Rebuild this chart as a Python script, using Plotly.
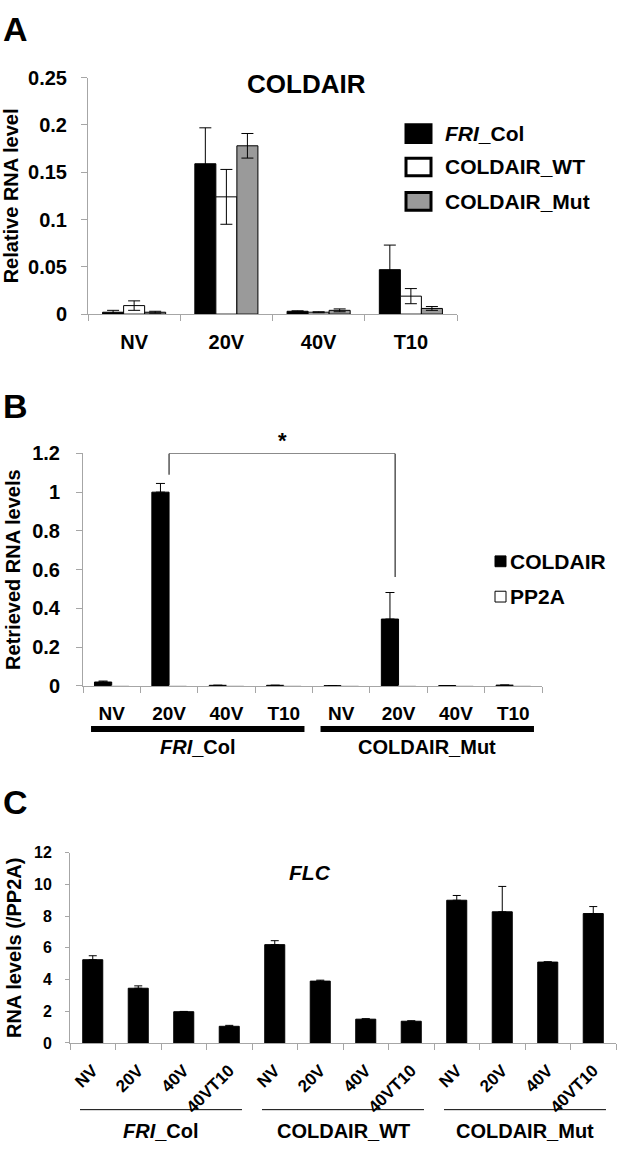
import plotly.graph_objects as go

FONT = "Liberation Sans, Arial, sans-serif"
W, H = 619, 1155

# ---------------- Panel A data ----------------
a_categories = ["NV", "20V", "40V", "T10"]
a_series = ["<i>FRI</i>_Col", "COLDAIR_WT", "COLDAIR_Mut"]
a_fri = [0.002, 0.159, 0.003, 0.047]
a_fri_err = [0.002, 0.038, 0.0005, 0.026]
a_wt = [0.009, 0.124, 0.002, 0.019]
a_wt_err = [0.005, 0.029, 0.0005, 0.008]
a_mut = [0.002, 0.178, 0.004, 0.006]
a_mut_err = [0.001, 0.013, 0.0015, 0.002]

# ---------------- Panel B data ----------------
b_categories = ["NV", "20V", "40V", "T10", "NV", "20V", "40V", "T10"]
b_groups = ["<i>FRI</i>_Col", "COLDAIR_Mut"]
b_series = ["COLDAIR", "PP2A"]
b_coldair = [0.02, 1.0, 0.003, 0.003, 0.001, 0.345, 0.002, 0.004]
b_coldair_err = [0.005, 0.045, 0.0, 0.0, 0.0, 0.137, 0.0, 0.0]
b_pp2a = [0.001, 0.001, 0.001, 0.001, 0.001, 0.001, 0.001, 0.001]

# ---------------- Panel C data ----------------
c_categories = ["NV", "20V", "40V", "40VT10",
                "NV", "20V", "40V", "40VT10",
                "NV", "20V", "40V", "40VT10"]
c_groups = ["<i>FRI</i>_Col", "COLDAIR_WT", "COLDAIR_Mut"]
c_flc = [5.25, 3.45, 1.97, 1.05, 6.2, 3.9, 1.5, 1.37, 9.0, 8.27, 5.1, 8.16]
c_flc_err = [0.25, 0.15, 0.02, 0.06, 0.25, 0.06, 0.03, 0.03, 0.3, 1.6, 0.02, 0.44]


def px(x):
    return x / W


def py(y):
    return 1 - y / H


fig = go.Figure()

# Panel A bars
a_x = list(range(len(a_categories)))
a_w = 0.228
for vals, errs, color, off in [
    (a_fri, a_fri_err, "black", -0.342),
    (a_wt, a_wt_err, "white", -0.114),
    (a_mut, a_mut_err, "#9a9a9a", 0.114),
]:
    fig.add_trace(go.Bar(
        x=a_x, y=vals, width=a_w, offset=off,
        marker=dict(color=color, line=dict(color="black", width=1)),
        error_y=dict(type="data", array=errs, color="black", thickness=1, width=6),
        xaxis="x", yaxis="y", showlegend=False,
    ))

# Panel B bars
b_x = list(range(len(b_categories)))
fig.add_trace(go.Bar(
    x=b_x, y=b_coldair, width=0.3, offset=-0.3,
    marker=dict(color="black", line=dict(color="black", width=1)),
    error_y=dict(type="data", array=b_coldair_err, arrayminus=[0] * len(b_x),
                 symmetric=False, color="black", thickness=1, width=4.5),
    xaxis="x2", yaxis="y2", showlegend=False,
))
fig.add_trace(go.Bar(
    x=b_x, y=b_pp2a, width=0.3, offset=0.0,
    marker=dict(color="white", line=dict(color="#cccccc", width=0.5)),
    xaxis="x2", yaxis="y2", showlegend=False,
))

# Panel C bars
c_x = list(range(len(c_categories)))
fig.add_trace(go.Bar(
    x=c_x, y=c_flc, width=0.44, offset=-0.22,
    marker=dict(color="black", line=dict(color="black", width=1)),
    error_y=dict(type="data", array=c_flc_err, arrayminus=[0] * len(c_x),
                 symmetric=False, color="black", thickness=1, width=4),
    xaxis="x3", yaxis="y3", showlegend=False,
))

AX = "#a6a6a6"
bold = lambda s: dict(family=FONT, size=s, color="black", weight="bold")


def xaxis(n, domain, anchor, labels, size, standoff, angle=0):
    return dict(
        domain=domain, anchor=anchor, range=[-0.5, n - 0.5],
        showline=True, linecolor=AX, linewidth=1, showgrid=False, zeroline=False,
        tickmode="array", tickvals=list(range(n)), ticktext=labels, ticks="",
        tickfont=bold(size), tickangle=angle, ticklabelstandoff=standoff,
        minor=dict(ticks="outside", tickvals=[i - 0.5 for i in range(n + 1)],
                   ticklen=6, tickcolor=AX, tickwidth=1, showgrid=False),
        fixedrange=True,
    )


def yaxis(domain, anchor, rng, dtick, size, title, tsize, standoff, ticklen=6):
    return dict(
        domain=domain, anchor=anchor, range=rng, dtick=dtick, tick0=0,
        showline=True, linecolor=AX, linewidth=1, showgrid=False, zeroline=False,
        ticks="outside", ticklen=ticklen, tickcolor=AX, tickwidth=1,
        tickfont=bold(size), ticklabelstandoff=standoff,
        title=dict(text=title, font=bold(tsize), standoff=6),
        fixedrange=True,
    )


fig.update_layout(
    width=W, height=H,
    margin=dict(l=0, r=0, t=0, b=0),
    paper_bgcolor="white", plot_bgcolor="white",
    barmode="overlay",
    font=dict(family=FONT, color="black"),
    xaxis=xaxis(4, [px(88), px(457)], "y", a_categories, 20, 10),
    yaxis=yaxis([py(309), py(68)], "x", [0, 0.25], 0.05, 20, "Relative RNA level", 20, 10),
    xaxis2=xaxis(8, [px(83), px(542)], "y2", b_categories, 19, 10),
    yaxis2=yaxis([py(688), py(451)], "x2", [0, 1.2], 0.2, 20, "Retrieved RNA levels", 20, 12),
    xaxis3=xaxis(12, [px(70), px(616)], "y3", c_categories, 17, 10, angle=-45),
    yaxis3=yaxis([py(1052), py(858)], "x3", [0, 12], 2, 16, "RNA levels (/PP2A)", 20, 10, ticklen=4),
)

shapes = []
ann = []

# panel letters
for letter, y in [("A", 18), ("B", 403), ("C", 806)]:
    ann.append(dict(text=f"<b>{letter}</b>", x=px(1), y=py(y), xref="paper", yref="paper",
                    xanchor="left", yanchor="middle", showarrow=False,
                    font=dict(family=FONT, size=34, color="black")))

# Panel A title
ann.append(dict(text="<b>COLDAIR</b>", x=px(306), y=py(74), xref="paper", yref="paper",
                xanchor="center", yanchor="middle", showarrow=False,
                font=dict(family=FONT, size=26, color="black")))

# Panel A legend
a_leg_fill = ["black", "white", "#9a9a9a"]
a_leg_y = [125, 159, 194]
for name, fill, yc in zip(a_series, a_leg_fill, a_leg_y):
    shapes.append(dict(type="rect", xref="paper", yref="paper",
                       x0=px(406), x1=px(431), y0=py(yc - 9), y1=py(yc + 9),
                       fillcolor=fill, line=dict(color="black", width=3)))
    ann.append(dict(text=f"<b>{name}</b>", x=px(443), y=py(yc), xref="paper", yref="paper",
                    xanchor="left", yanchor="middle", showarrow=False,
                    font=dict(family=FONT, size=21, color="black")))

# Panel B legend
b_leg_fill = ["black", "white"]
b_leg_y = [561, 597]
for name, fill, yc in zip(b_series, b_leg_fill, b_leg_y):
    shapes.append(dict(type="rect", xref="paper", yref="paper",
                       x0=px(495), x1=px(506), y0=py(yc - 5.5), y1=py(yc + 5.5),
                       fillcolor=fill, line=dict(color="black", width=1)))
    ann.append(dict(text=f"<b>{name}</b>", x=px(508), y=py(yc), xref="paper", yref="paper",
                    xanchor="left", yanchor="middle", showarrow=False,
                    font=dict(family=FONT, size=21, color="black")))

# Panel B significance bracket (derived from the 20V bars)
left_i, right_i = 1, 5
top = 1.2
left_bottom = b_coldair[left_i] + b_coldair_err[left_i] + 0.045
right_bottom = b_coldair[right_i] + b_coldair_err[right_i] + 0.08
xl, xr = left_i, right_i - 0.06
shapes.append(dict(type="path", xref="x2", yref="y2",
                   path=f"M {xl},{left_bottom} L {xl},{top} L {xr},{top} L {xr},{right_bottom}",
                   line=dict(color="black", width=1)))
ann.append(dict(text="<b>*</b>", x=(xl + xr) / 2, y=top, xref="x2", yref="y2",
                xanchor="center", yanchor="bottom", yshift=-2, showarrow=False,
                font=dict(family=FONT, size=22, color="black")))

# Panel B group bars
for g, name in enumerate(b_groups):
    shapes.append(dict(type="rect", xref="x2", yref="paper",
                       x0=g * 4 - 0.36, x1=g * 4 + 3.36, y0=py(735), y1=py(729),
                       fillcolor="black", line=dict(width=0)))
    ann.append(dict(text=f"<b>{name}</b>", x=g * 4 + 1.5, y=py(750), xref="x2", yref="paper",
                    xanchor="center", yanchor="middle", showarrow=False,
                    font=dict(family=FONT, size=20, color="black")))

# Panel C title
ann.append(dict(text="<b><i>FLC</i></b>", x=px(310), y=py(878), xref="paper", yref="paper",
                xanchor="center", yanchor="middle", showarrow=False,
                font=dict(family=FONT, size=21, color="black")))

# Panel C group lines
for g, name in enumerate(c_groups):
    shapes.append(dict(type="line", xref="x3", yref="paper",
                       x0=g * 4 - 0.28, x1=g * 4 + 3.28, y0=py(1120), y1=py(1120),
                       line=dict(color="black", width=1)))
    ann.append(dict(text=f"<b>{name}</b>", x=g * 4 + 1.5, y=py(1142), xref="x3", yref="paper",
                    xanchor="center", yanchor="middle", showarrow=False,
                    font=dict(family=FONT, size=20, color="black")))

fig.update_layout(shapes=shapes, annotations=ann)
fig.write_html(
    "out.html",
    config={"displayModeBar": False},
    post_script="document.body.style.margin='0';document.body.style.overflow='hidden';",
)
